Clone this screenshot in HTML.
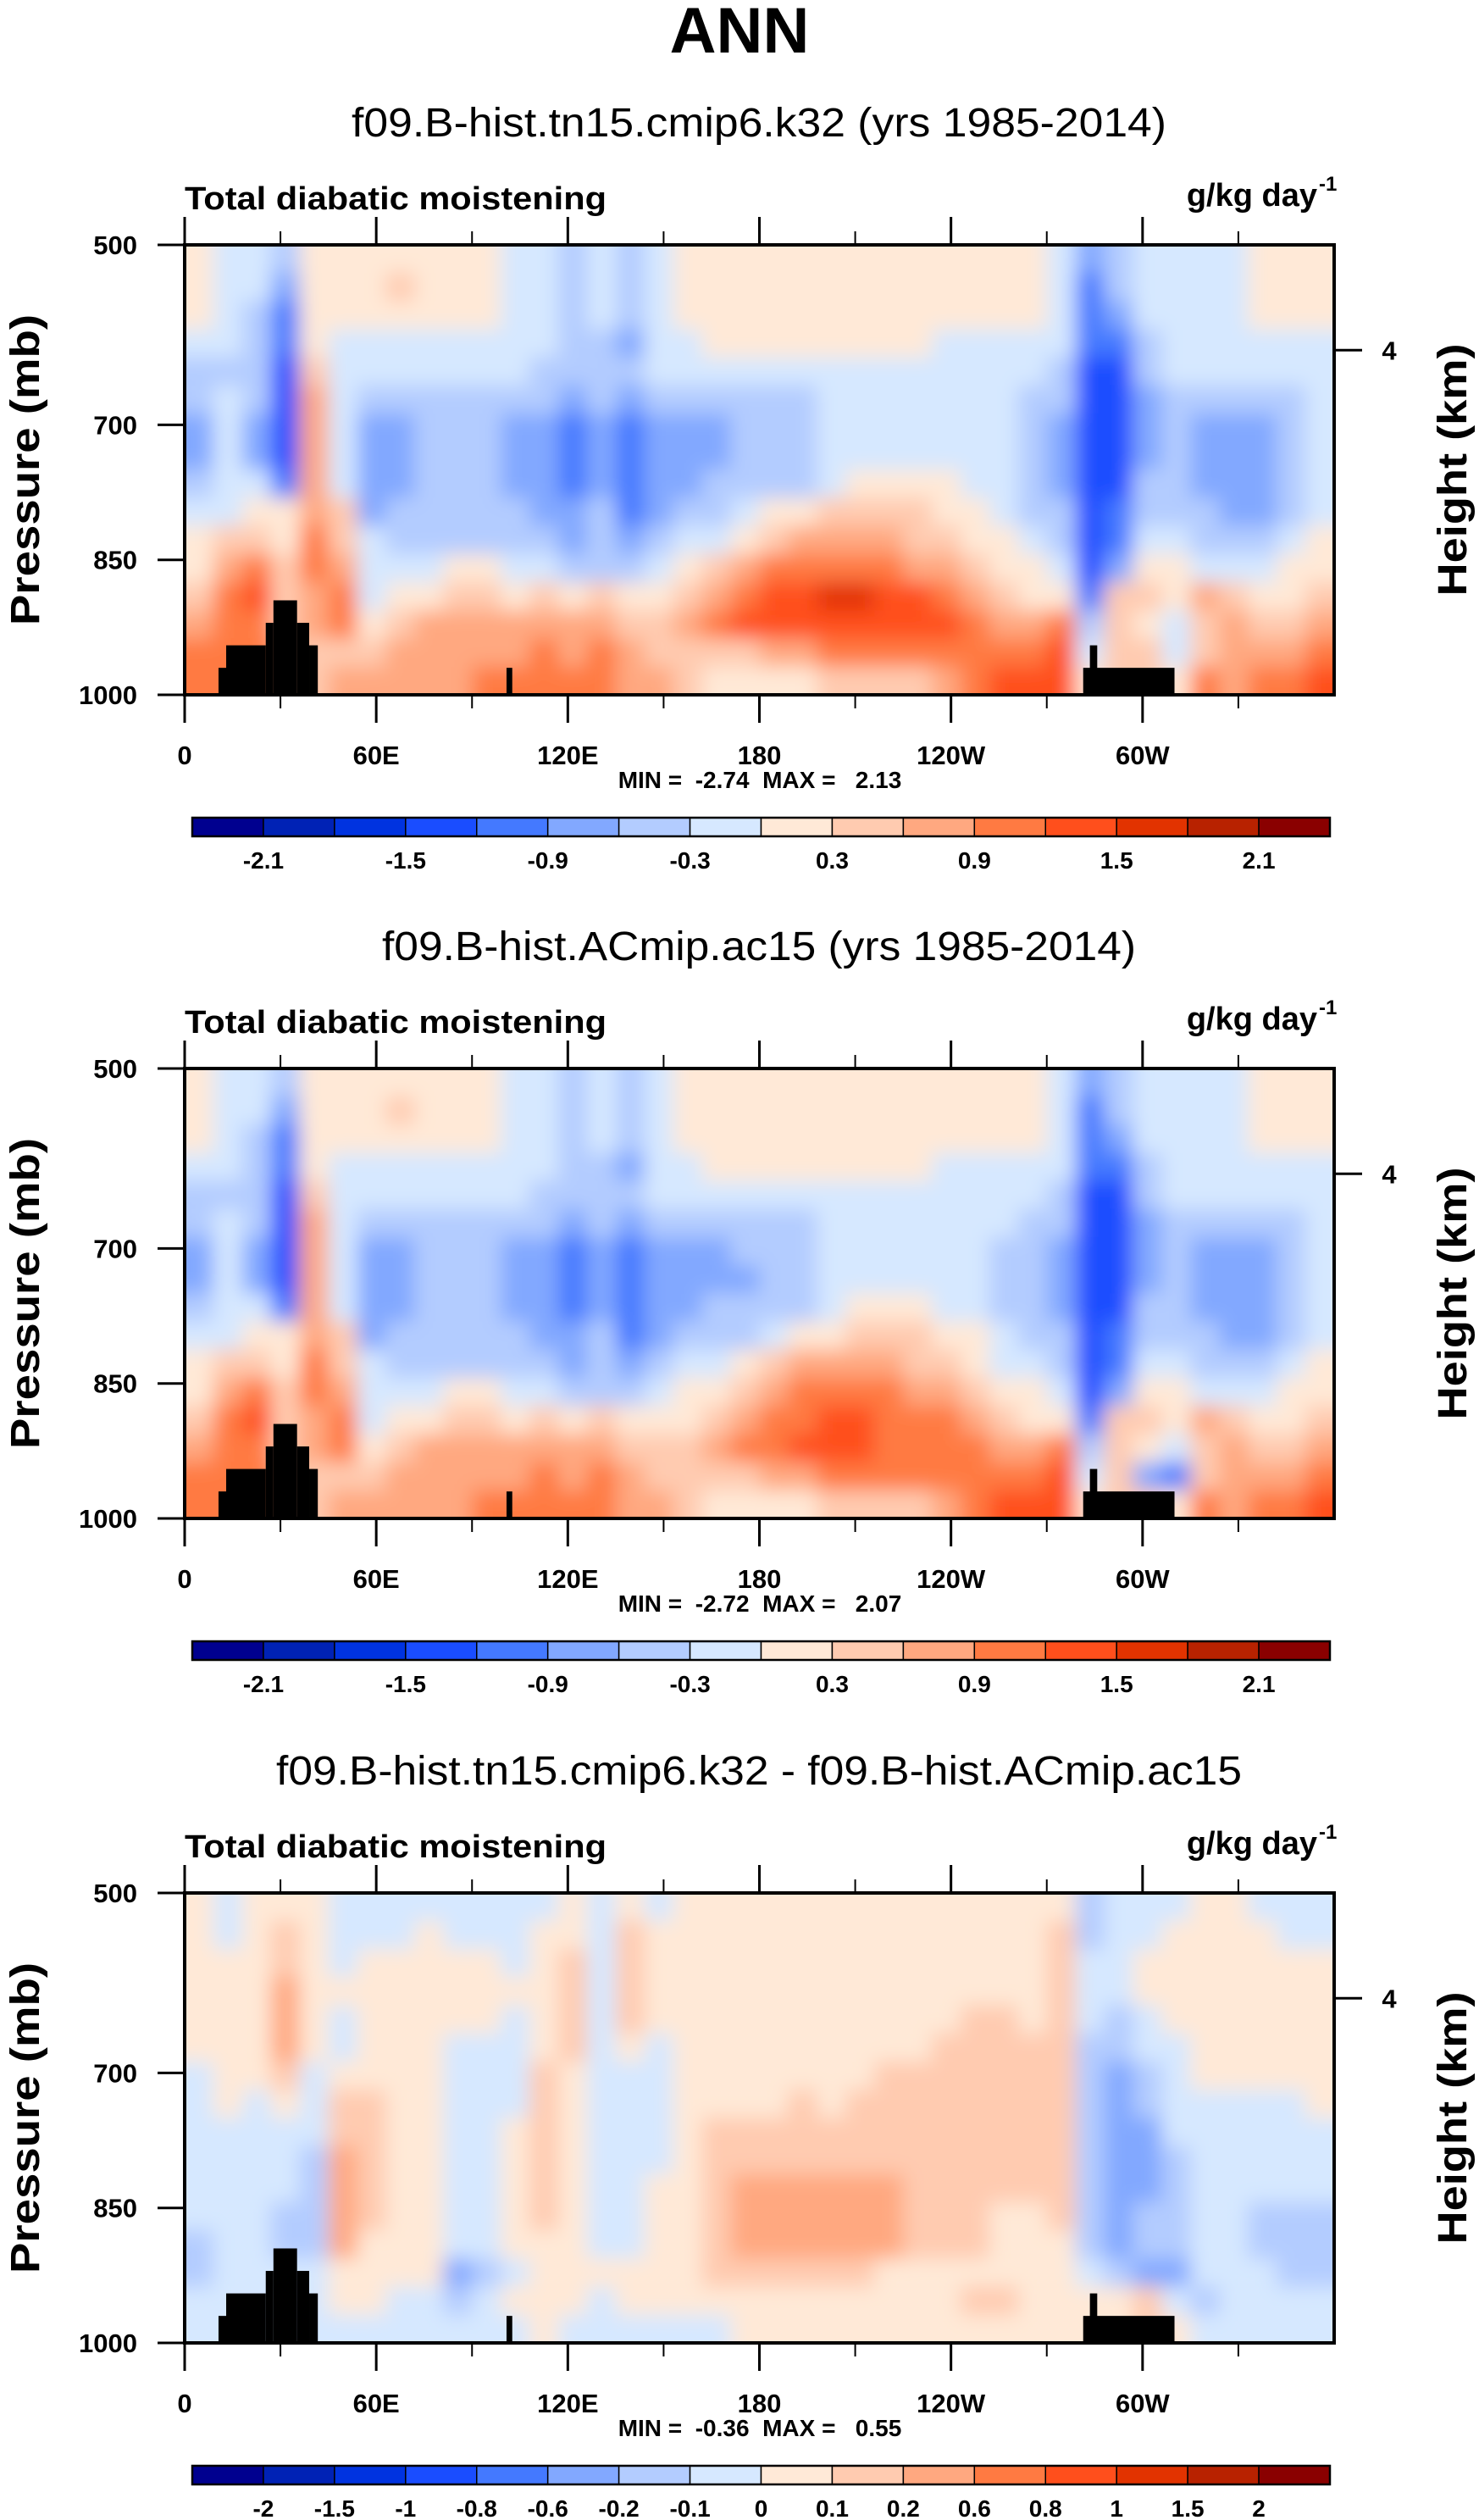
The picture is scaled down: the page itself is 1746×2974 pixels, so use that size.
<!DOCTYPE html>
<html><head><meta charset="utf-8">
<style>
html,body{margin:0;padding:0;background:#fff;}
svg{display:block;}
text{font-family:"Liberation Sans",sans-serif;}
</style></head>
<body>
<svg id="fig" width="1746" height="2974" viewBox="0 0 1746 2974" xmlns="http://www.w3.org/2000/svg">
<defs>
<filter id="soft" filterUnits="userSpaceOnUse" x="0" y="0" width="1746" height="2974"><feGaussianBlur stdDeviation="12"/></filter>
</defs>
<text x="873" y="62" text-anchor="middle" font-size="76" font-weight="bold">ANN</text>
</svg>
<script>
// ---- data ----
const lonTicks = [0, 60, 120, 180, 240, 300];
const lonTickLabels = ["0", "60E", "120E", "180", "120W", "60W"];
const lonMinorTicks = [30, 90, 150, 210, 270, 330];
const presTicks = [500, 700, 850, 1000];
const heightTickPres = [617];
const heightTickLabels = ["4"];
const cbLabelsA = ["-2.1","","-1.5","","-0.9","","-0.3","","0.3","","0.9","","1.5","","2.1"];
const cbLabelsB = ["-2","-1.5","-1","-0.8","-0.6","-0.2","-0.1","0","0.1","0.2","0.6","0.8","1","1.5","2"];
const palette = ["#00008f","#0022b5","#0033e0","#1a4dff","#4479ff","#82a8ff","#b3ccff","#d6e8ff","#ffe9d7","#ffcbb0","#ffa880","#ff7a42","#ff4f1c","#e23300","#b82200","#8a0000"];
const topoLon0 = [10.6, 13.0, 25.4, 27.8, 35.2, 39.0, 100.8, 281.4, 283.5];
const topoLon1 = [13.0, 25.4, 27.8, 35.2, 39.0, 41.7, 102.6, 310.0, 285.8];
const topoTop  = [970, 945, 920, 895, 920, 945, 970, 970, 945];
// field rows: 16 pressure bands (500->1000 mb), 40 lon columns (9 deg each), value = colour-bin index (hex)
const field1 = [
"8776"+"8888888"+"776767"+"8888888888888"+"7567777"+"888",
"87758889888"+"776767"+"8888888888888"+"7467777"+"888",
"87648888888"+"776767"+"8888888888888"+"7457777"+"888",
"77648777777"+"776657"+"7888888887777"+"7446777"+"777",
"66639777777"+"766667"+"7777777777777"+"6336777"+"777",
"6763a766666"+"665656"+"6666677777776"+"6335666"+"667",
"5753a755666"+"554545"+"5566677777776"+"5335655"+"567",
"5753a755666"+"554545"+"5566677777776"+"5335655"+"567",
"6774a755666"+"554545"+"5666678888776"+"5336655"+"567",
"7788a956666"+"655645"+"6678899998876"+"6346665"+"567",
"8998b976666"+"665656"+"7789aaaa99887"+"6347766"+"678",
"8ab9ba77788"+"776667"+"89abbbbbaa988"+"7358877"+"788",
"9bc9ab78899"+"898988"+"9abccddccba98"+"84998a9"+"889",
"abb9ab89aaa"+"aaaa99"+"abccccccccbaa"+"b69879a"+"99a",
"bbba999aaaa"+"ababa9"+"999aabbbbbbbb"+"c79979a"+"aab",
"bbba9aaaaab"+"bbbbaa"+"988889999abcc"+"c8998ba"+"bbc"];
const field2 = [
"8776"+"8888888"+"776767"+"8888888888888"+"7567777"+"888",
"87758889888"+"776767"+"8888888888888"+"7467777"+"888",
"87648888888"+"776767"+"8888888888888"+"7457777"+"888",
"77648777777"+"776657"+"7888888887777"+"7446777"+"777",
"66639777777"+"766667"+"7777777777777"+"6336777"+"777",
"6763a766666"+"665656"+"6666677777776"+"6335666"+"667",
"5753a755666"+"554545"+"5566677777766"+"5335655"+"567",
"5753a755666"+"554545"+"5556677777766"+"5335655"+"567",
"6774a755666"+"554545"+"5666678887766"+"5336655"+"567",
"7788a956666"+"655645"+"6667889998876"+"6346665"+"567",
"8998b976666"+"665656"+"7789aaaa99877"+"6347766"+"678",
"8ab9ba77788"+"776667"+"889abbbbaa988"+"7358877"+"788",
"9bc9ab78899"+"898988"+"89abbccbbba98"+"84998a9"+"889",
"abb9ab89aaa"+"aaaa99"+"9abbcccbbbbaa"+"b69879a"+"99a",
"bbba999aaaa"+"ababa9"+"999aabbbbbbbb"+"c79549a"+"aab",
"bbba9aaaaab"+"bbbbaa"+"988889999abcc"+"c8998ba"+"bbc"];
const field3 = [
"87888777777"+"778787"+"8888888888888"+"8677788"+"777",
"87898777877"+"788798"+"8888888888888"+"9677888"+"877",
"88898788888"+"789798"+"8888888888888"+"9778888"+"888",
"888a8888888"+"889798"+"8888888888888"+"9778888"+"888",
"888a8788888"+"789798"+"8888888888998"+"9767888"+"888",
"888a8788877"+"789787"+"8888888889999"+"9667788"+"888",
"78897888877"+"798777"+"8888888999999"+"9656788"+"888",
"78787998877"+"798777"+"8888989999999"+"9656777"+"778",
"77777998877"+"898777"+"8999999999999"+"9655777"+"777",
"77776a98877"+"898777"+"8999999999999"+"9655677"+"777",
"77776a98877"+"898778"+"89aaaaaa99999"+"9655677"+"777",
"77766a98877"+"898778"+"89aaaaaa99988"+"9656677"+"666",
"67766a88877"+"888778"+"89aaaaaa99988"+"8656677"+"666",
"67777888856"+"788888"+"8999999888888"+"8765577"+"766",
"77777887767"+"888788"+"8888888888998"+"8889767"+"777",
"77777777777"+"787777"+"7788888888888"+"8889877"+"777"];
const subtitles = ["f09.B-hist.tn15.cmip6.k32 (yrs 1985-2014)","f09.B-hist.ACmip.ac15 (yrs 1985-2014)","f09.B-hist.tn15.cmip6.k32 - f09.B-hist.ACmip.ac15"];
const minVals = ["-2.74","-2.72","-0.36"];
const maxVals = ["2.13","2.07","0.55"];

// ---- layout ----
const NS = "http://www.w3.org/2000/svg";
const svg = document.getElementById("fig");
const PL = 218, PR = 1575, PH = 531;
const panelTops = [289, 1261, 2234];
const fields = [field1, field2, field3];
const cbLabelSets = [cbLabelsA, cbLabelsA, cbLabelsB];
const subWidths = [962, 890, 1140];
function mk(tag, attrs, parent) {
  const e = document.createElementNS(NS, tag);
  for (const k in attrs) e.setAttribute(k, attrs[k]);
  (parent || svg).appendChild(e);
  return e;
}
const xOf = lon => PL + (lon / 360) * (PR - PL);

panelTops.forEach((T, pi) => {
  const yOf = p => T + (p - 500) / 500 * PH;
  const g = mk("g", {});
  
  

  const sub = mk("text", {x: 896, y: T - 128, "text-anchor": "middle", "font-size": 48, textLength: subWidths[pi], lengthAdjust: "spacingAndGlyphs"}, g);
  sub.textContent = subtitles[pi];
  
  

  const lt = mk("text", {x: PL, y: T - 42, "font-size": 38, "font-weight": "bold", textLength: 498, lengthAdjust: "spacingAndGlyphs"}, g);
  lt.textContent = "Total diabatic moistening";
  
  

  const un = mk("text", {x: 1555, y: T - 46, "text-anchor": "end", "font-size": 38, "font-weight": "bold"}, g);
  un.textContent = "g/kg day";
  
  
  const sup = mk("text", {x: 1557, y: T - 64, "font-size": 24, "font-weight": "bold"}, g);
  sup.textContent = "-1";
  
  

  // field
  const clipId = "clip" + pi;
  const cp = mk("clipPath", {id: clipId}, g);
  mk("rect", {x: PL, y: T, width: PR - PL, height: PH}, cp);
  const fg = mk("g", {"clip-path": "url(#" + clipId + ")"}, g);
  
  
  const inner = mk("g", {filter: "url(#soft)"}, fg);
  const rows = fields[pi];
  const nR = rows.length;
  rows.forEach((row, r) => {
    const nC = row.length;
    for (let c = 0; c < nC; c++) {
      const p0 = 500 + r * 500 / nR, p1 = 500 + (r + 1) * 500 / nR;
      let x0 = xOf(c * 360 / nC), x1 = xOf((c + 1) * 360 / nC);
      let y0 = yOf(p0), y1 = yOf(p1);
      if (c === 0) x0 -= 40; if (c === nC - 1) x1 += 40;
      if (r === 0) y0 -= 40; if (r === nR - 1) y1 += 40;
      const cell = mk("rect", {x: x0, y: y0, width: x1 - x0 + 0.6, height: y1 - y0 + 0.6, fill: palette[parseInt(row[c], 16)]}, inner);
      
      
    }
  });
  // topography
  topoLon0.forEach((l0, i) => {
    const tb = mk("rect", {x: xOf(l0), y: yOf(topoTop[i]), width: xOf(topoLon1[i]) - xOf(l0), height: yOf(1000) - yOf(topoTop[i]), fill: "#000"}, fg);
    
    
  });
  // frame
  const fr = mk("rect", {x: PL, y: T, width: PR - PL, height: PH, fill: "none", stroke: "#000", "stroke-width": 4}, g);
  
  

  // x ticks
  lonTicks.forEach((lon, i) => {
    const x = xOf(lon);
    mk("line", {x1: x, y1: T, x2: x, y2: T - 33, stroke: "#000", "stroke-width": 3}, g);
    mk("line", {x1: x, y1: T + PH, x2: x, y2: T + PH + 33, stroke: "#000", "stroke-width": 3}, g);
    const t = mk("text", {x: x, y: T + PH + 82, "text-anchor": "middle", "font-size": 31, "font-weight": "bold"}, g);
    t.textContent = lonTickLabels[i];
    
    
  });
  lonMinorTicks.forEach(lon => {
    const x = xOf(lon);
    mk("line", {x1: x, y1: T, x2: x, y2: T - 16, stroke: "#000", "stroke-width": 2}, g);
    mk("line", {x1: x, y1: T + PH, x2: x, y2: T + PH + 16, stroke: "#000", "stroke-width": 2}, g);
  });
  // y ticks
  presTicks.forEach(p => {
    const y = yOf(p);
    mk("line", {x1: PL - 32, y1: y, x2: PL, y2: y, stroke: "#000", "stroke-width": 3}, g);
    const t = mk("text", {x: 162, y: y + 11, "text-anchor": "end", "font-size": 31, "font-weight": "bold"}, g);
    t.textContent = String(p);
    
    
  });
  heightTickPres.forEach((p, i) => {
    const y = yOf(p);
    mk("line", {x1: PR, y1: y, x2: PR + 33, y2: y, stroke: "#000", "stroke-width": 3}, g);
    const t = mk("text", {x: 1640, y: y + 11, "text-anchor": "middle", "font-size": 31, "font-weight": "bold"}, g);
    t.textContent = heightTickLabels[i];
    
    
  });
  const cy = T + PH / 2;
  const ya = mk("text", {x: 0, y: 0, "text-anchor": "middle", "font-size": 48, "font-weight": "bold", transform: "translate(46," + cy + ") rotate(-90)", textLength: 367, lengthAdjust: "spacingAndGlyphs"}, g);
  ya.textContent = "Pressure (mb)";
  
  
  const yb = mk("text", {x: 0, y: 0, "text-anchor": "middle", "font-size": 48, "font-weight": "bold", transform: "translate(1731," + cy + ") rotate(-90)", textLength: 298, lengthAdjust: "spacingAndGlyphs"}, g);
  yb.textContent = "Height (km)";
  
  

  const mm = mk("text", {x: 897, y: T + PH + 110, "text-anchor": "middle", "font-size": 28, "font-weight": "bold", style: "white-space:pre"}, g);
  mm.textContent = "MIN =  " + minVals[pi] + "  MAX =   " + maxVals[pi];
  
  

  // colorbar
  const cbX0 = 227, cbX1 = 1570, cbY = T + 676, cbH = 22;
  const bw = (cbX1 - cbX0) / palette.length;
  const cbg = mk("g", {}, g);
  
  
  palette.forEach((col, i) => {
    const r = mk("rect", {x: cbX0 + i * bw, y: cbY, width: bw, height: cbH, fill: col, stroke: "#000", "stroke-width": 1.5}, cbg);
    
    
  });
  mk("rect", {x: cbX0, y: cbY, width: cbX1 - cbX0, height: cbH, fill: "none", stroke: "#000", "stroke-width": 2.5}, cbg);
  cbLabelSets[pi].forEach((lab, i) => {
    if (!lab) return;
    const t = mk("text", {x: cbX0 + (i + 1) * bw, y: T + 736, "text-anchor": "middle", "font-size": 28, "font-weight": "bold"}, cbg);
    t.textContent = lab;
    
    
  });
});
</script>
</body></html>
